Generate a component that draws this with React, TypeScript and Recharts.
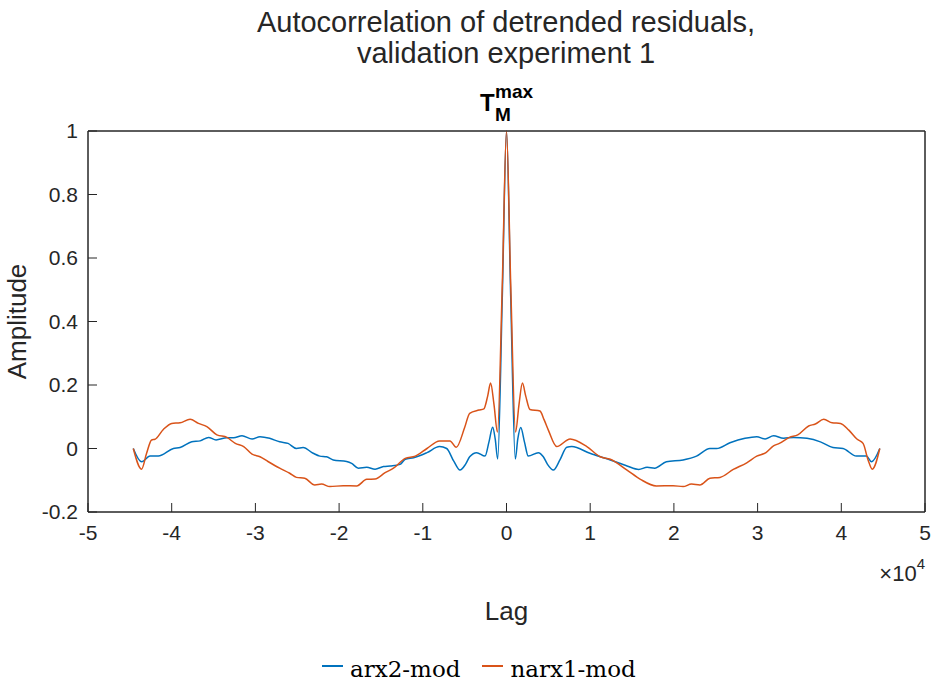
import React from 'react';
import { LineChart, Line, XAxis, YAxis, Legend, Label, ReferenceArea } from 'recharts';

// lag values (samples) and autocorrelation amplitudes
const arxLag = [
  -44590, -43600, -42600, -41600, -39800, -39000, -37600, -36600, -35600, -34700,
  -33400, -32600, -31600, -30400, -29450, -28300, -27100, -26100, -25100, -24300,
  -23100, -22300, -21500, -20700, -19100, -18500, -17700, -16700, -15700, -14700,
  -13900, -12700, -12100, -11100, -9500, -8000, -7150, -6300, -5560, -4900,
  -4400, -3560, -2570, -2100, -1650, -1350, -1050, -500, 0,
  500, 1050, 1350, 1700, 2150, 2600, 3800, 4400, 4900, 5600,
  6400, 7200, 7800, 9970, 12400, 14400, 15800, 16800, 17700, 19100,
  21100, 22700, 24300, 25100, 26700, 28500, 29900, 30900, 31900, 33100,
  34300, 35900, 37500, 39000, 40200, 41800, 43000, 43600, 44600,
];
const arxVal = [
  0.0, -0.042, -0.024, -0.024, 0.0, 0.003, 0.021, 0.024, 0.035, 0.027,
  0.034, 0.034, 0.04, 0.03, 0.037, 0.032, 0.021, 0.016, 0.0, 0.003,
  -0.015, -0.024, -0.026, -0.036, -0.041, -0.047, -0.062, -0.059, -0.065, -0.057,
  -0.055, -0.05, -0.034, -0.029, -0.013, 0.006, 0.0, -0.04, -0.068, -0.05,
  -0.026, -0.013, -0.024, 0.02, 0.067, 0.03, -0.033, 0.48, 1.0,
  0.48, -0.033, 0.03, 0.066, 0.02, -0.024, -0.013, -0.026, -0.05, -0.068,
  -0.035, 0.004, 0.006, -0.015, -0.036, -0.055, -0.066, -0.059, -0.062, -0.042,
  -0.036, -0.024, 0.0, 0.0, 0.018, 0.032, 0.037, 0.03, 0.04, 0.032,
  0.035, 0.032, 0.021, 0.003, 0.0, -0.024, -0.024, -0.042, 0.0,
];

const narxLag = [
  -44590, -43600, -43000, -42400, -42000, -41000, -40000, -39000, -37800, -36800,
  -35800, -34600, -33400, -32400, -31400, -30400, -29450, -28500, -27100, -25900,
  -25100, -24100, -22900, -22100, -21100, -19500, -17900, -16700, -15700, -14500,
  -13500, -12100, -10900, -9500, -8000, -6750, -6000, -5000, -4400, -3300,
  -2700, -2250, -1900, -1500, -1080, -500, 0,
  500, 1080, 1500, 1900, 2300, 2800, 4000, 4500, 5000, 6000,
  7600, 9600, 11200, 12400, 14400, 16000, 17900, 19900, 21100, 22100,
  23100, 24300, 25500, 27100, 28700, 29900, 31000, 31900, 32600, 33800,
  34800, 36100, 36900, 37900, 38900, 39900, 40900, 41900, 42600, 43200,
  43700, 44600,
];
const narxVal = [
  0.0, -0.065, -0.015, 0.027, 0.029, 0.06, 0.079, 0.081, 0.092, 0.079,
  0.069, 0.043, 0.035, 0.016, 0.006, -0.018, -0.026, -0.041, -0.062, -0.078,
  -0.091, -0.094, -0.115, -0.112, -0.12, -0.117, -0.118, -0.097, -0.096, -0.076,
  -0.062, -0.031, -0.024, 0.0, 0.024, 0.024, 0.004, 0.066, 0.111, 0.121,
  0.125, 0.165, 0.206, 0.14, 0.052, 0.52, 1.0,
  0.52, 0.052, 0.14, 0.206, 0.165, 0.123, 0.118, 0.09, 0.058, 0.006,
  0.03, 0.006, -0.026, -0.034, -0.068, -0.097, -0.118, -0.117, -0.12, -0.112,
  -0.115, -0.094, -0.091, -0.066, -0.045, -0.024, -0.013, 0.008, 0.016, 0.035,
  0.043, 0.071, 0.077, 0.092, 0.081, 0.079, 0.058, 0.029, 0.016, -0.036,
  -0.065, 0.0,
];

const xTicks = [-50000, -40000, -30000, -20000, -10000, 0, 10000, 20000, 30000, 40000, 50000];
const yTicks = [-0.2, 0, 0.2, 0.4, 0.6, 0.8, 1];
const xDomain = [-50000, 50000];
const yDomain = [-0.2, 1];
const seriesNames = ['arx2-mod', 'narx1-mod'];
const seriesColors = ['#0072BD', '#D95319'];

const arxData = arxLag.map((lag, i) => ({ lag, value: arxVal[i] }));
const narxData = narxLag.map((lag, i) => ({ lag, value: narxVal[i] }));

const SANS = '"Liberation Sans", Arial, Helvetica, sans-serif';
const AX = '#262626';

const LagLabel = (props: any) => {
  const vb = props.viewBox || { x: 88, y: 512, width: 837, height: 144 };
  return (
    <text x={vb.x + vb.width / 2} y={vb.y + 108} textAnchor="middle" fontFamily={SANS} fontSize={26} fill={AX}>
      Lag
    </text>
  );
};

const ExpLabel = (props: any) => {
  const vb = props.viewBox || { x: 88, y: 512, width: 837, height: 144 };
  return (
    <text x={vb.x + vb.width} y={vb.y + 69} textAnchor="end" fontFamily={SANS} fontSize={22} fill={AX}>
      ×10
      <tspan dy={-12} fontSize={15}>4</tspan>
    </text>
  );
};

const AmpLabel = (props: any) => {
  const vb = props.viewBox || { x: 0, y: 131, width: 88, height: 381 };
  const cx = 26;
  const cy = vb.y + vb.height / 2;
  return (
    <text x={cx} y={cy} transform={`rotate(-90, ${cx}, ${cy})`} textAnchor="middle" fontFamily={SANS} fontSize={26} fill={AX}>
      Amplitude
    </text>
  );
};

const renderLegend = (props: any) => {
  const payload = (props.payload || []).filter((e: any) => e.type !== 'none');
  return (
    <div style={{ height: 26, display: 'flex', alignItems: 'center', paddingLeft: 322, boxSizing: 'border-box' }}>
      {payload.map((entry: any, i: number) => (
        <div key={i} style={{ display: 'flex', alignItems: 'center', marginRight: 22, height: 26 }}>
          <svg width={21} height={26} style={{ display: 'block' }}>
            <line x1={0} y1={10} x2={21} y2={10} stroke={entry.color} strokeWidth={2} />
          </svg>
          <span style={{ marginLeft: 7, fontFamily: '"DejaVu Serif", serif', fontSize: 23, lineHeight: '26px', color: '#000' }}>
            {entry.value}
          </span>
        </div>
      ))}
    </div>
  );
};

export default function App() {
  return (
    <div style={{ position: 'absolute', left: 0, top: 0, width: 931, height: 682, background: '#fff' }}>
      <LineChart width={931} height={682} margin={{ top: 130, right: 5, bottom: 0, left: 0 }}>
        <ReferenceArea
          xAxisId="b"
          yAxisId="l"
          x1={xDomain[0]}
          x2={xDomain[1]}
          y1={yDomain[0]}
          y2={yDomain[1]}
          fill="none"
          fillOpacity={0}
          stroke={AX}
          strokeWidth={1}
          ifOverflow="visible"
        />
        <XAxis
          xAxisId="b"
          dataKey="lag"
          type="number"
          domain={xDomain}
          ticks={xTicks}
          interval={0}
          tickFormatter={(v: number) => String(v / 10000)}
          tickSize={-9}
          tickMargin={22}
          height={144}
          stroke={AX}
          axisLine={{ stroke: AX }}
          tickLine={{ stroke: AX }}
          tick={{ fill: AX, fontSize: 21, fontFamily: SANS }}
        >
          <Label content={LagLabel} />
          <Label content={ExpLabel} />
        </XAxis>
        <XAxis
          xAxisId="t"
          orientation="top"
          dataKey="lag"
          type="number"
          domain={xDomain}
          ticks={xTicks}
          interval={0}
          tick={false}
          tickSize={-9}
          height={1}
          stroke={AX}
          axisLine={{ stroke: AX }}
          tickLine={{ stroke: AX }}
        />
        <YAxis
          yAxisId="l"
          type="number"
          domain={yDomain}
          ticks={yTicks}
          interval={0}
          tickFormatter={(v: number) => String(Math.round(v * 10) / 10)}
          tickSize={-9}
          tickMargin={19}
          width={88}
          stroke={AX}
          tick={{ fill: AX, fontSize: 21, fontFamily: SANS }}
        >
          <Label content={AmpLabel} />
        </YAxis>
        <YAxis
          yAxisId="r"
          orientation="right"
          type="number"
          domain={yDomain}
          ticks={yTicks}
          interval={0}
          tick={false}
          tickSize={-9}
          width={1}
          stroke={AX}
          axisLine={{ stroke: AX }}
          tickLine={{ stroke: AX }}
        />
        <Legend verticalAlign="bottom" content={renderLegend} />
        <Line
          xAxisId="b"
          yAxisId="l"
          data={arxData}
          dataKey="value"
          name={seriesNames[0]}
          stroke={seriesColors[0]}
          strokeWidth={1.5}
          dot={false}
          type="monotone"
          isAnimationActive={false}
        />
        <Line
          xAxisId="b"
          yAxisId="l"
          data={narxData}
          dataKey="value"
          name={seriesNames[1]}
          stroke={seriesColors[1]}
          strokeWidth={1.5}
          dot={false}
          type="monotone"
          isAnimationActive={false}
        />
      </LineChart>
      <svg width={931} height={125} style={{ position: 'absolute', left: 0, top: 0, pointerEvents: 'none' }}>
        <text x={506} y={32} textAnchor="middle" fontFamily={SANS} fontSize={29} fill={AX}>
          Autocorrelation of detrended residuals,
        </text>
        <text x={506} y={63} textAnchor="middle" fontFamily={SANS} fontSize={29} fill={AX}>
          validation experiment 1
        </text>
        <text x={480} y={111} fontFamily={SANS} fontSize={24} fontWeight="bold" fill="#000">T</text>
        <text x={495} y={98} fontFamily={SANS} fontSize={19} fontWeight="bold" fill="#000">max</text>
        <text x={495} y={121} fontFamily={SANS} fontSize={19} fontWeight="bold" fill="#000">M</text>
      </svg>
    </div>
  );
}
